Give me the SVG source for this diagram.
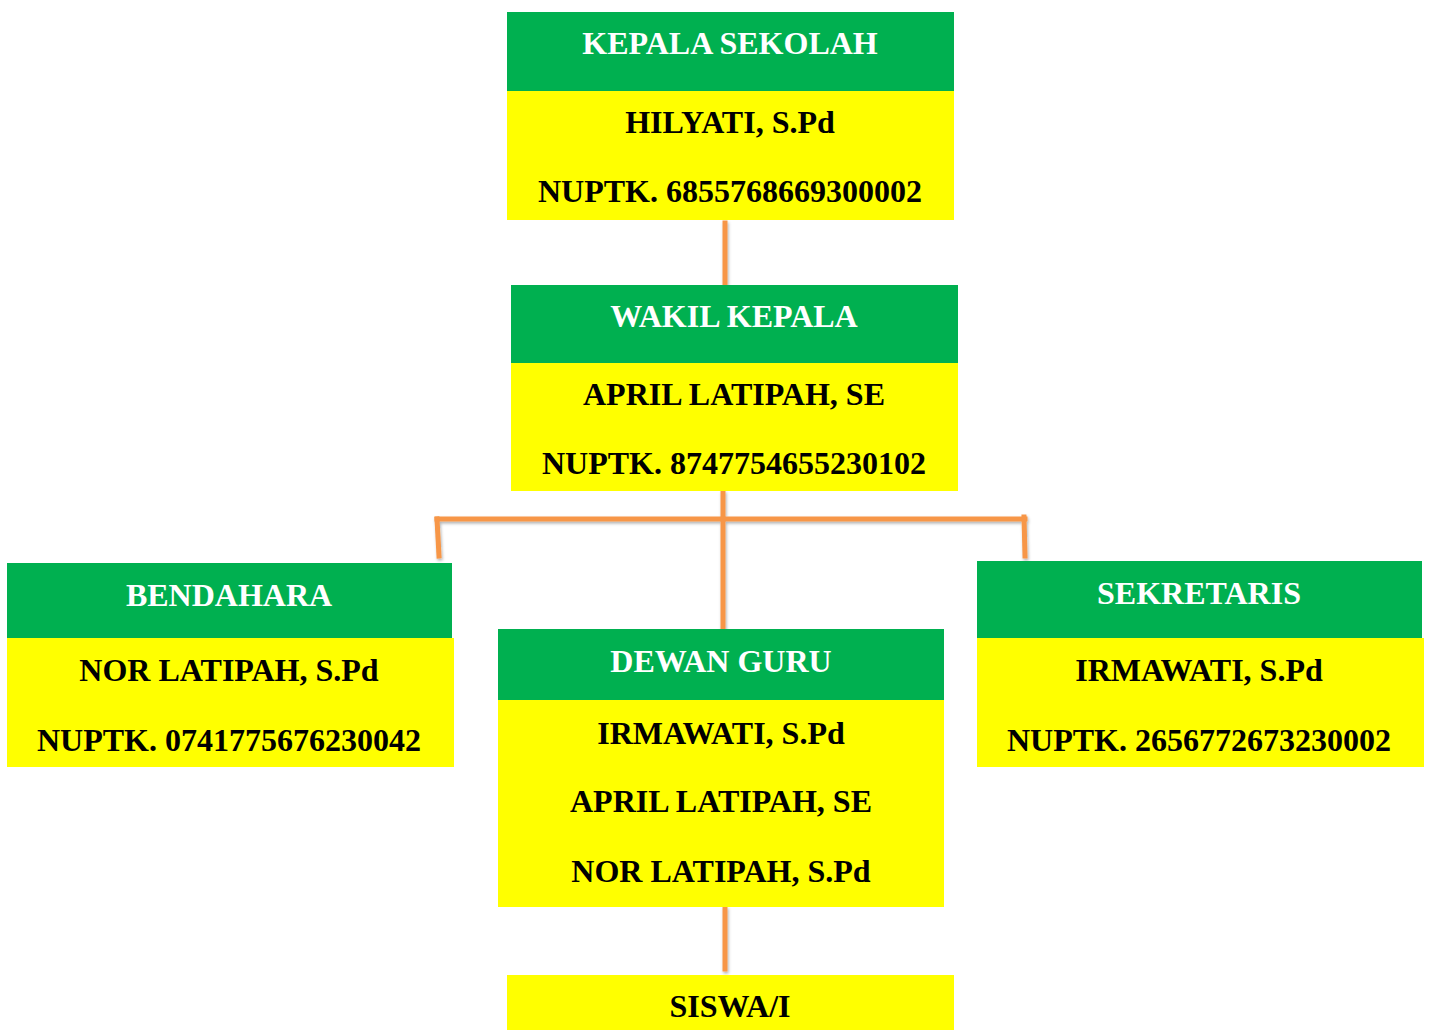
<svg xmlns="http://www.w3.org/2000/svg" width="1429" height="1030" viewBox="0 0 1429 1030">
<defs>
<style>
.g{fill:#00B050}
.y{fill:#FFFF00}
.h{font-family:"Liberation Serif","Times New Roman",serif;font-weight:bold;font-size:32px;fill:#FFFFFF;text-anchor:middle}
.t{font-family:"Liberation Serif","Times New Roman",serif;font-weight:bold;font-size:32px;fill:#000000;text-anchor:middle}
.c{stroke:#F79646;stroke-width:5;fill:none;stroke-linecap:square}
</style>
<filter id="sh" x="-20%" y="-20%" width="140%" height="140%">
<feDropShadow dx="1" dy="2" stdDeviation="1.5" flood-color="#000" flood-opacity="0.3"/>
</filter>
</defs>
<rect width="1429" height="1030" fill="#FFFFFF"/>
<g id="connectors" filter="url(#sh)">
<line class="c" x1="725" y1="223" x2="725" y2="284"/>
<line class="c" x1="723" y1="493" x2="723" y2="628"/>
<line class="c" x1="437" y1="519" x2="1025" y2="519"/>
<line class="c" x1="437" y1="519" x2="439" y2="556"/>
<line class="c" x1="1024" y1="517" x2="1025" y2="556"/>
<line class="c" x1="725" y1="909" x2="725" y2="969"/>
</g>
<g id="kepala">
<rect class="g" x="507" y="12" width="447" height="79"/>
<rect class="y" x="507" y="91" width="447" height="129"/>
<text class="h" x="730" y="54">KEPALA SEKOLAH</text>
<text class="t" x="730" y="133">HILYATI, S.Pd</text>
<text class="t" x="730" y="202">NUPTK. 6855768669300002</text>
</g>
<g id="wakil">
<rect class="g" x="511" y="285" width="447" height="78"/>
<rect class="y" x="511" y="363" width="447" height="128"/>
<text class="h" x="734" y="327">WAKIL KEPALA</text>
<text class="t" x="734" y="405">APRIL LATIPAH, SE</text>
<text class="t" x="734" y="474">NUPTK. 8747754655230102</text>
</g>
<g id="bendahara">
<rect class="g" x="7" y="563" width="445" height="75"/>
<rect class="y" x="7" y="638" width="447" height="129"/>
<text class="h" x="229" y="606">BENDAHARA</text>
<text class="t" x="229" y="681">NOR LATIPAH, S.Pd</text>
<text class="t" x="229" y="751">NUPTK. 0741775676230042</text>
</g>
<g id="dewan-guru">
<rect class="g" x="498" y="629" width="446" height="72"/>
<rect class="y" x="498" y="700" width="446" height="207"/>
<text class="h" x="721" y="672">DEWAN GURU</text>
<text class="t" x="721" y="744">IRMAWATI, S.Pd</text>
<text class="t" x="721" y="812">APRIL LATIPAH, SE</text>
<text class="t" x="721" y="882">NOR LATIPAH, S.Pd</text>
</g>
<g id="sekretaris">
<rect class="g" x="977" y="561" width="445" height="77"/>
<rect class="y" x="977" y="638" width="447" height="129"/>
<text class="h" x="1199" y="604">SEKRETARIS</text>
<text class="t" x="1199" y="681">IRMAWATI, S.Pd</text>
<text class="t" x="1199" y="751">NUPTK. 2656772673230002</text>
</g>
<g id="siswa">
<rect class="y" x="507" y="975" width="447" height="55"/>
<text class="t" x="730" y="1017">SISWA/I</text>
</g>
</svg>
